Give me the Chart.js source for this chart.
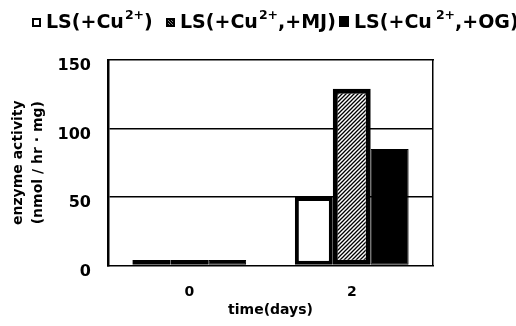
<!DOCTYPE html>
<html>
<head>
<meta charset="utf-8">
<script src="https://cdn.jsdelivr.net/npm/chart.js@4.4.0/dist/chart.umd.min.js"></script>
<style>
  html, body { margin: 0; padding: 0; background: #fff; }
  #wrap { position: relative; width: 516px; height: 326px; }
  .item {
    position: absolute; top: 10px;
    font: bold 19px "DejaVu Sans", sans-serif; color: #000;
    white-space: nowrap; line-height: 22px;
  }
  .box { display: inline-block; width: 9px; height: 9px; box-sizing: border-box; border: 2px solid #000; margin-right: 5px; vertical-align: baseline; position: relative; top: -1px; }
  .item sup { font-size: 12.5px; vertical-align: baseline; position: relative; top: -9px; line-height: 0; margin-left: 1px; }
</style>
</head>
<body>
<div id="wrap">
  <canvas id="chart" width="516" height="326"></canvas>
  <div class="item" style="left:32px"><span class="box" id="box0"></span>LS(+Cu<sup>2+</sup>)</div>
  <div class="item" style="left:166px"><span class="box" id="box1"></span>LS(+Cu<sup>2+</sup>,+MJ)</div>
  <div class="item" style="left:339px"><span class="box" id="box2" style="width:10px;height:11px"></span>LS(+Cu<sup style="margin-left:4px">2+</sup>,+OG)</div>
</div>
<script>
// values
const days = ['0', '2'];
const lsCu = [4, 50];
const lsCuMJ = [4, 129];
const lsCuOG = [4, 85];
const yTicks = [0, 50, 100, 150];
const gridAt = [50, 100];

const FONT = '"DejaVu Sans", sans-serif';

function makeHatch() {
  const c = document.createElement('canvas');
  c.width = 4; c.height = 4;
  const g = c.getContext('2d');
  g.fillStyle = '#fff';
  g.fillRect(0, 0, 4, 4);
  g.strokeStyle = '#000';
  g.lineWidth = 1.3;
  g.beginPath();
  g.moveTo(-1, 5); g.lineTo(5, -1);
  g.moveTo(-1, 1); g.lineTo(1, -1);
  g.moveTo(3, 5); g.lineTo(5, 3);
  g.stroke();
  return c;
}

const ctx = document.getElementById('chart').getContext('2d');
const hatch = ctx.createPattern(makeHatch(), 'repeat');

document.getElementById('box0').style.background = '#fff';
document.getElementById('box1').style.background = 'repeating-linear-gradient(45deg,#000 0 1px,#888 1px 2px)';
document.getElementById('box2').style.background = '#000';

new Chart(ctx, {
  type: 'bar',
  data: {
    labels: days,
    datasets: [
      { label: 'LS(+Cu2+)', data: lsCu, backgroundColor: '#fff', borderColor: '#000', borderWidth: 4, borderSkipped: false },
      { label: 'LS(+Cu2+,+MJ)', data: lsCuMJ, backgroundColor: hatch, borderColor: '#000', borderWidth: 5, borderSkipped: false },
      { label: 'LS(+Cu2+,+OG)', data: lsCuOG, backgroundColor: '#000', borderColor: '#000', borderWidth: 1, borderSkipped: false }
    ]
  },
  options: {
    responsive: false,
    animation: false,
    categoryPercentage: 0.7,
    barPercentage: 1.0,
    layout: { padding: { top: 52, right: 75, left: 8, bottom: 7 } },
    plugins: {
      legend: { display: false },
      tooltip: { enabled: false }
    },
    scales: {
      x: {
        grid: { display: false },
        border: { display: true, color: '#000', width: 1.5, dash: [2, 2] },
        ticks: { color: '#000', padding: 11, font: { family: FONT, size: 14, weight: 'bold' } },
        title: {
          display: true, text: 'time(days)', color: '#000',
          padding: { top: -10, bottom: 0 },
          font: { family: FONT, size: 14, weight: 'bold' }
        }
      },
      xTop: {
        type: 'category', position: 'top', labels: days,
        grid: { display: false },
        ticks: { display: false },
        border: { display: true, color: '#000', width: 1.5, dash: [2, 2] }
      },
      y: {
        min: yTicks[0],
        max: yTicks[yTicks.length - 1],
        afterBuildTicks: axis => { axis.ticks = yTicks.map(v => ({ value: v })); },
        grid: {
          drawTicks: false,
          lineWidth: 1.5,
          color: c => gridAt.includes(c.tick.value) ? '#000' : 'rgba(0,0,0,0)'
        },
        border: { display: true, color: '#000', width: 2.5 },
        ticks: { color: '#000', padding: 17, labelOffset: 6, font: { family: FONT, size: 16, weight: 'bold' } },
        title: {
          display: true,
          text: ['enzyme activity', '(nmol / hr \u00b7 mg)'],
          color: '#000',
          padding: { top: 0, bottom: -8 },
          font: { family: FONT, size: 14, weight: 'bold', lineHeight: 1.45 }
        }
      },
      yRight: {
        type: 'linear', position: 'right', min: 0, max: 150,
        grid: { display: false },
        ticks: { display: false },
        border: { display: true, color: '#000', width: 1.5, dash: [2, 2] }
      }
    }
  }
});
</script>
</body>
</html>
